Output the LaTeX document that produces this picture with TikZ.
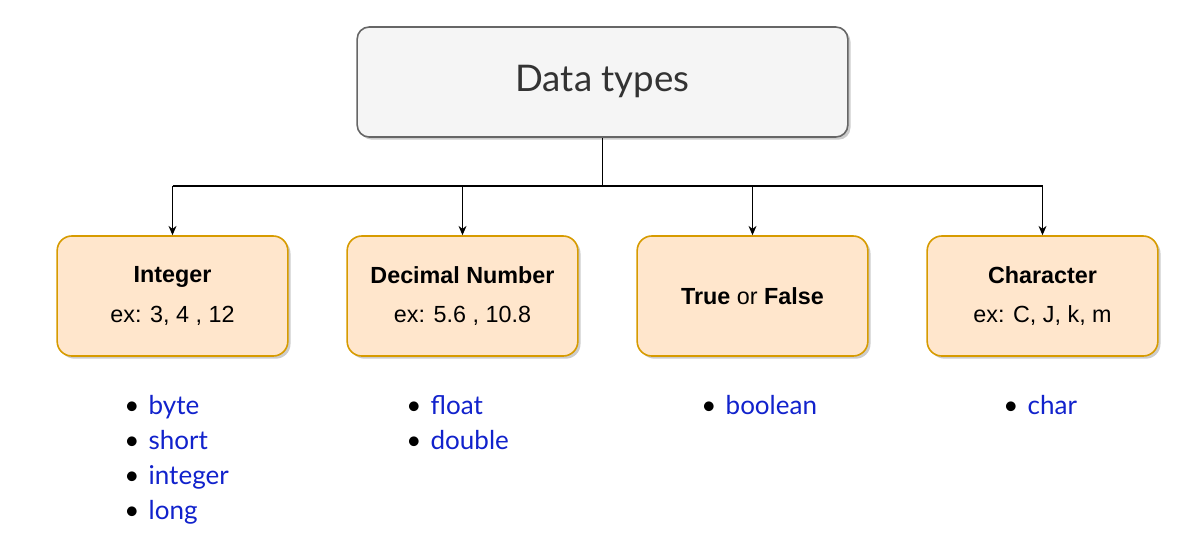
\documentclass[tikz,border=0pt]{standalone}
\usepackage{fontspec}
\setmainfont{Liberation Sans}
\newfontfamily\listfont{Lato}
\usetikzlibrary{arrows.meta,positioning,shadows}
\definecolor{dtgray}{RGB}{245,245,245}
\definecolor{dtgrayline}{RGB}{102,102,102}
\definecolor{dtorange}{RGB}{255,230,204}
\definecolor{dtorangeline}{RGB}{215,155,0}
\definecolor{dtblue}{RGB}{17,34,204}
\definecolor{dttext}{RGB}{51,51,51}
\newcommand{\lbul}{{\color{black}\textbullet}\hspace{7pt}}

\begin{document}
\begin{tikzpicture}[x=0.75pt, y=-0.75pt,
  topnode/.style={draw=dtgrayline, fill=dtgray, line width=1.2pt, rounded corners=9pt, minimum width=368pt, minimum height=82.5pt, font=\listfont\fontsize{27.5}{32}\selectfont, text=dttext, drop shadow={shadow xshift=2pt, shadow yshift=-2pt, opacity=0.2, fill=black}},
  typenode/.style={draw=dtorangeline, fill=dtorange, line width=1.2pt, rounded corners=11pt, minimum width=173pt, minimum height=90pt, align=center, font=\fontsize{17.5}{29.5}\selectfont, drop shadow={shadow xshift=2pt, shadow yshift=-2pt, opacity=0.2, fill=black}},
  listnode/.style={anchor=base west, align=left, inner sep=0pt, font=\listfont\fontsize{19.5}{26.25}\selectfont, text=dtblue},
  link/.style={line width=0.8pt},
  arr/.style={link, -{Stealth[length=7pt, width=6pt]}}]
\useasboundingbox[fill=white] (0,0) rectangle (1202,544);
% Title
\node[topnode] (title) at (602.5,82) {Data types};
% Categories
\node[typenode] (int) at (172.5,296) {\textbf{Integer}\\ex: 3, 4 , 12};
\node[typenode] (dec) at (462.5,296) {\textbf{Decimal Number}\\ex: 5.6 , 10.8};
\node[typenode] (tf) at (752.5,296) {\textbf{True} or \textbf{False}};
\node[typenode] (chr) at (1042.5,296) {\textbf{Character}\\ex: C, J, k, m};
% Connections
\coordinate (split) at (603,186);
\draw[link] (title.south) -- (title.south |- split);
\draw[link] (int.north |- split) -- (chr.north |- split);
\foreach \n in {int,dec,tf,chr} {
  \draw[arr] (\n.north |- split) -- (\n.north);
}
% Java types (anchored at the last line)
\node[listnode] (intlist) at (124,519) {\lbul byte\\\lbul short\\\lbul integer\\\lbul long};
\node[listnode] (declist) at (406,449) {\lbul float\\\lbul double};
\node[listnode] (tflist) at (701,414) {\lbul boolean};
\node[listnode] (chrlist) at (1003,414) {\lbul char};
\end{tikzpicture}
\end{document}
